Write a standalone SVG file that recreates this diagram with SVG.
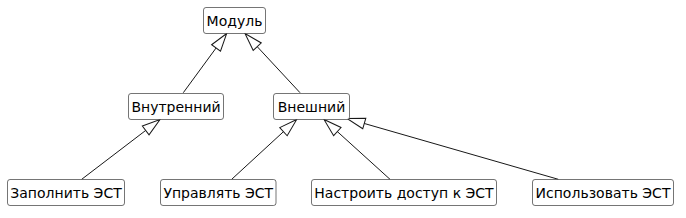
<svg xmlns="http://www.w3.org/2000/svg" width="686" height="218" viewBox="0 0 686 218">
<style>
.node rect{fill:#ffffff;stroke:#181818;stroke-width:0.6}
.node text{font-family:"DejaVu Sans",sans-serif;font-size:14px;fill:#000;text-anchor:middle}
.edges line{stroke:#181818;stroke-width:1;marker-end:url(#ext)}
</style>
<defs>
<marker id="ext" markerUnits="userSpaceOnUse" markerWidth="22" markerHeight="16" refX="18" refY="7" orient="auto" overflow="visible">
<path d="M0,1.5 L18,7 L0,12.5 Z" fill="#ffffff" stroke="#181818" stroke-width="1"/>
</marker>
</defs>
<rect width="686" height="218" fill="#ffffff"/>
<g class="edges">
<line x1="183.3" y1="92.7" x2="226.7" y2="33.5"/>
<line x1="300" y1="92.7" x2="245" y2="33.5"/>
<line x1="81.7" y1="179.3" x2="160" y2="119.5"/>
<line x1="231.7" y1="179.3" x2="296.7" y2="119.5"/>
<line x1="390" y1="179.3" x2="324" y2="119.5"/>
<line x1="558.3" y1="179.3" x2="347" y2="118.5"/>
</g>
<g id="modul" class="node"><rect x="203.5" y="7.5" width="62" height="26" rx="2.5"/><text x="234.5" y="25.5">Модуль</text></g>
<g id="vnutrenniy" class="node"><rect x="128.5" y="93.5" width="95" height="26" rx="2.5"/><text x="176" y="111.5">Внутренний</text></g>
<g id="vneshniy" class="node"><rect x="273.5" y="93.5" width="76" height="26" rx="2.5"/><text x="311.5" y="111.5">Внешний</text></g>
<g id="zapolnit" class="node"><rect x="7.5" y="179.5" width="117" height="26" rx="2.5"/><text x="66" y="197.5">Заполнить ЭСТ</text></g>
<g id="upravlyat" class="node"><rect x="160.5" y="179.5" width="115.5" height="26" rx="2.5"/><text x="218.25" y="197.5">Управлять ЭСТ</text></g>
<g id="nastroit" class="node"><rect x="311.5" y="179.5" width="185" height="26" rx="2.5"/><text x="404" y="197.5">Настроить доступ к ЭСТ</text></g>
<g id="ispolzovat" class="node"><rect x="532.5" y="179.5" width="141" height="26" rx="2.5"/><text x="603" y="197.5">Использовать ЭСТ</text></g>
</svg>
